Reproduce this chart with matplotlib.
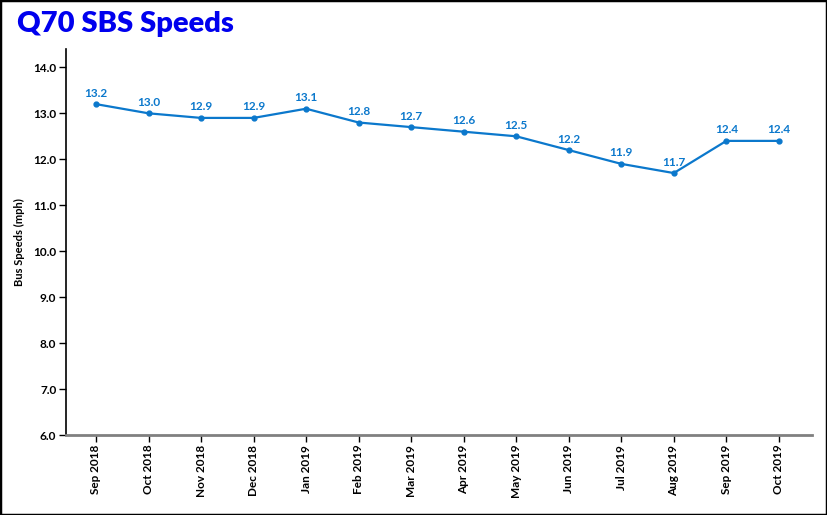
import matplotlib
matplotlib.use('Agg')
import matplotlib.pyplot as plt
from matplotlib.patches import Rectangle

# chart data
months = ['Sep 2018', 'Oct 2018', 'Nov 2018', 'Dec 2018', 'Jan 2019', 'Feb 2019', 'Mar 2019',
          'Apr 2019', 'May 2019', 'Jun 2019', 'Jul 2019', 'Aug 2019', 'Sep 2019', 'Oct 2019']
speeds = [13.2, 13.0, 12.9, 12.9, 13.1, 12.8, 12.7, 12.6, 12.5, 12.2, 11.9, 11.7, 12.4, 12.4]
y_ticks = [6, 7, 8, 9, 10, 11, 12, 13, 14]

plt.rcParams['font.family'] = ['Lato', 'DejaVu Sans']

line_col = '#0b78cc'

fig = plt.figure(figsize=(8.27, 5.15), dpi=100)
ax = fig.add_axes([0.0798, 0.1553, 0.902, 0.7496])

x = list(range(len(months)))
ax.plot(x, speeds, color=line_col, lw=1.6, marker='o', ms=3.5)
for xi, v in zip(x, speeds):
    ax.annotate(f'{v:.1f}', (xi, v), xytext=(0, 4), textcoords='offset points',
                ha='center', va='bottom', fontsize=8.5, fontweight='bold', color=line_col)

ax.set_xlim(-0.571, 13.63)
ax.set_ylim(6, 14.4)
ax.set_xticks(x)
ax.set_xticklabels(months, rotation=90, fontsize=8.5, fontweight='bold')
ax.set_yticks(y_ticks)
ax.set_yticklabels([f'{t:.1f}' for t in y_ticks], fontsize=8.5, fontweight='bold')
ax.tick_params(length=5, width=1, pad=2)

for s in ['top', 'right']:
    ax.spines[s].set_visible(False)
ax.spines['left'].set_linewidth(1.2)
ax.spines['bottom'].set_color('#808080')
ax.spines['bottom'].set_linewidth(2)

ax.set_ylabel('Bus Speeds (mph)', fontsize=8, fontweight='bold', labelpad=6)

fig.text(0.02, 0.953, 'Q70 SBS Speeds', fontsize=21, fontweight='heavy', color='#0000ee',
         va='center', ha='left')

fig.patches.append(Rectangle((0, 0), 1, 1, transform=fig.transFigure, fill=False,
                             edgecolor='black', lw=2.5))

fig.savefig('out.png', dpi=100)
